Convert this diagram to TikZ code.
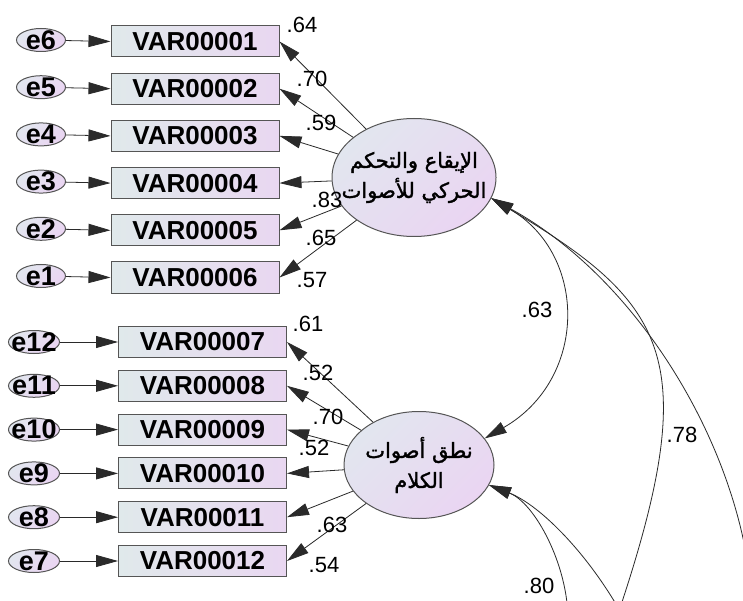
\documentclass[tikz,border=0pt]{standalone}
\usepackage{fontspec}
\setmainfont{Liberation Sans}
\newfontfamily\arabicfont[Script=Arabic,FakeBold=1.6]{DejaVu Sans}
\TeXXeTstate=1
\usetikzlibrary{arrows.meta,shapes.geometric}
\definecolor{boxL}{HTML}{E0E9EB}
\definecolor{boxR}{HTML}{E9D7F1}
\definecolor{ellL}{HTML}{E2E6EF}
\definecolor{ellR}{HTML}{EAD5F2}
\definecolor{edgec}{HTML}{555555}
\definecolor{linec}{HTML}{2A2A2A}
\begin{document}
\begin{tikzpicture}[x=1pt,y=-1pt,
 obs/.style={rectangle, draw=edgec, line width=1pt, left color=boxL, right color=boxR,
   minimum width=168pt, minimum height=31pt, inner sep=0pt,
   font=\fontsize{26}{28}\selectfont\bfseries},
 errv/.style={ellipse, draw=edgec, line width=1pt, top color=ellL, bottom color=ellR,
   shading angle=45, minimum width=49pt, minimum height=23pt, inner sep=0pt},
 etext/.style={font=\fontsize{27}{28}\selectfont\bfseries, inner sep=0pt},
 lat/.style={ellipse, draw=edgec, line width=1pt, top color=ellL, bottom color=ellR,
   shading angle=45, inner sep=0pt},
 lattext/.style={align=center, inner sep=0pt, font=\arabicfont\fontsize{21}{30}\selectfont},
 arr/.style={line width=0.8pt, draw=linec, -{Triangle[length=22pt,width=12pt]}},
 darr/.style={line width=0.8pt, draw=linec, {Triangle[length=22pt,width=12pt]}-{Triangle[length=22pt,width=12pt]}},
 lbl/.style={font=\fontsize{22}{24}\selectfont, inner sep=0pt},
]
\useasboundingbox (0,0) rectangle (743,601);
\fill[white] (0,0) rectangle (743,601);

% latent variables
\node[lat, minimum width=164pt, minimum height=118pt,
  label={[lattext]center:{\beginR الإيقاع والتحكم\endR\\\beginR الحركي للأصوات\endR}}] (F1) at (414,177.5) {};
\node[lat, minimum width=150pt, minimum height=107pt,
  label={[lattext]center:{\beginR نطق أصوات\endR\\\beginR الكلام\endR}}] (F2) at (419,465) {};

% top observed variables
\node[obs] (v1) at (195,41.5) {VAR00001};
\node[obs] (v2) at (195,88.7) {VAR00002};
\node[obs] (v3) at (195,135.9) {VAR00003};
\node[obs] (v4) at (195,183.1) {VAR00004};
\node[obs] (v5) at (195,230.3) {VAR00005};
\node[obs] (v6) at (195,277.5) {VAR00006};

\node[errv, label={[etext]center:e6}] (e6) at (41,40) {};
\node[errv, label={[etext]center:e5}] (e5) at (41,87.2) {};
\node[errv, label={[etext]center:e4}] (e4) at (41,134.4) {};
\node[errv, label={[etext]center:e3}] (e3) at (41,181.6) {};
\node[errv, label={[etext]center:e2}] (e2) at (41,228.8) {};
\node[errv, label={[etext]center:e1}] (e1) at (41,276) {};

% bottom observed variables
\node[obs] (v7) at (202.5,342) {VAR00007};
\node[obs] (v8) at (202.5,385.8) {VAR00008};
\node[obs] (v9) at (202.5,429.6) {VAR00009};
\node[obs] (v10) at (202.5,473.4) {VAR00010};
\node[obs] (v11) at (202.5,517.2) {VAR00011};
\node[obs] (v12) at (202.5,561) {VAR00012};

\node[errv, minimum width=51pt, label={[etext]center:e12}] (e12) at (34,342) {};
\node[errv, minimum width=51pt, label={[etext]center:e11}] (e11) at (34,385.8) {};
\node[errv, minimum width=51pt, label={[etext]center:e10}] (e10) at (34,429.6) {};
\node[errv, minimum width=51pt, label={[etext]center:e9}] (e9) at (34,473.4) {};
\node[errv, minimum width=51pt, label={[etext]center:e8}] (e8) at (34,517.2) {};
\node[errv, minimum width=51pt, label={[etext]center:e7}] (e7) at (34,561) {};

% error arrows
\foreach \e/\v in {e6/v1,e5/v2,e4/v3,e3/v4,e2/v5,e1/v6,e12/v7,e11/v8,e10/v9,e9/v10,e8/v11,e7/v12}
  \draw[arr] (\e) -- (\v.west);

% loadings
\foreach \v in {v1,v2,v3,v4,v5,v6}
  \draw[arr] (F1) -- (\v.east);
\foreach \v in {v7,v8,v9,v10,v11,v12}
  \draw[arr] (F2) -- (\v.east);

% covariances
\coordinate (c78) at (616,620);
\coordinate (c3) at (752,600);
\coordinate (c80) at (568,620);
\coordinate (c5) at (625,620);
\begin{scope}
\clip (0,0) rectangle (743,601);
\draw[darr] (F1.-15) .. controls (588,255) and (588,379) .. (F2.22);
\draw[arr] (c78) .. controls (704,360) and (670,305) .. (F1.-15);
\draw[arr] (c3) .. controls (742,450) and (640,280) .. (F1.-15);
\draw[arr] (c80) .. controls (568,565) and (535,503) .. (F2.-16);
\draw[arr] (c5) .. controls (590,555) and (540,505) .. (F2.-16);
\end{scope}

% labels
\node[lbl] (l1) at (302,25) {.64};
\node[lbl] (l2) at (312,79) {.70};
\node[lbl] (l3) at (321,123) {.59};
\node[lbl] (l4) at (327,200) {.83};
\node[lbl] (l5) at (321,238) {.65};
\node[lbl] (l6) at (312,280) {.57};
\node[lbl] (l7) at (308,324) {.61};
\node[lbl] (l8) at (318,373) {.52};
\node[lbl] (l9) at (328,417) {.70};
\node[lbl] (l10) at (314,448) {.52};
\node[lbl] (l11) at (332,525) {.63};
\node[lbl] (l12) at (324,565) {.54};
\node[lbl] (l13) at (537,310) {.63};
\node[lbl] (l14) at (682,435) {.78};
\node[lbl] (l15) at (539,586) {.80};
\end{tikzpicture}
\end{document}
